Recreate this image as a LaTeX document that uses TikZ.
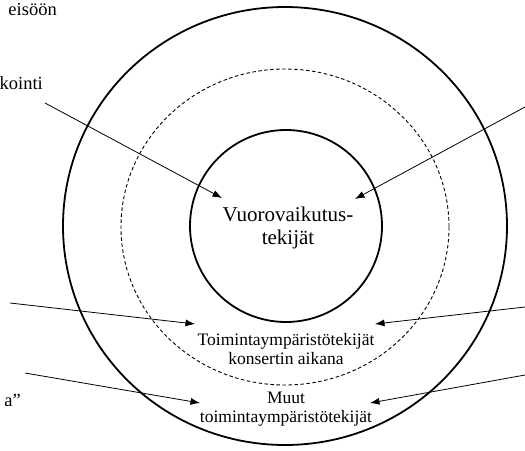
\documentclass[tikz,border=0pt]{standalone}
\usepackage{fontspec}
\setmainfont{Liberation Serif}
\usetikzlibrary{arrows.meta}
\begin{document}
\begin{tikzpicture}[x=1pt,y=-1pt,
  ring/.style={line width=1.8pt},
  envring/.style={line width=0.9pt,dash pattern=on 3.5pt off 2.5pt},
  pointer/.style={line width=0.8pt,-{Latex[length=9.5pt,width=7pt]}},
  big/.style={font=\fontsize{21}{23}\selectfont,align=center,inner sep=0pt},
  small/.style={font=\fontsize{17.5}{18.5}\selectfont,align=center,inner sep=0pt},
  side/.style={font=\fontsize{18.5}{20}\selectfont,inner sep=0pt,anchor=base east}]
\useasboundingbox (0,0) rectangle (525,450);
\begin{scope}
\clip (0,0) rectangle (525,450);
% concentric levels
\draw[ring] (285,226) ellipse [x radius=222, y radius=219];
\draw[envring] (285,227) ellipse [x radius=164, y radius=158];
\draw[ring] (286,226) circle [radius=96];

% labels inside the rings
\node[big] (core) at (288,228) {Vuorovaikutus-\\tekijät};
\node[small] (during) at (286,349) {Toimintaympäristötekijät\\konsertin aikana};
\node[small] (other) at (286,409) {Muut\\toimintaympäristötekijät};

% side labels
\node[side] (l1) at (57,15) {eisöön};
\node[side] (l2) at (43,89) {kointi};
\node[side] (l3) at (21,406) {a”};

% arrow ends
\coordinate (s1) at (45,103);
\coordinate (s2) at (525,107);
\coordinate (s3) at (10,303);
\coordinate (s4) at (525,307);
\coordinate (s5) at (25,373);
\coordinate (s6) at (525,375);
\coordinate (e1) at (222,198);
\coordinate (e2) at (355,199);
\coordinate (e3) at (195,324);
\coordinate (e4) at (375,324);
\coordinate (e5) at (200,403);
\coordinate (e6) at (370,403);

\draw[pointer] (s1) -- (e1);
\draw[pointer] (s2) -- (e2);
\draw[pointer] (s3) -- (e3);
\draw[pointer] (s4) -- (e4);
\draw[pointer] (s5) -- (e5);
\draw[pointer] (s6) -- (e6);
\end{scope}
\end{tikzpicture}
\end{document}
